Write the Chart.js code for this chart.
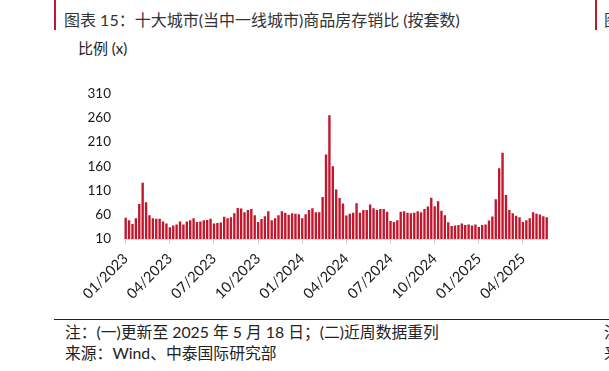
<!DOCTYPE html>
<html>
<head>
<meta charset="utf-8">
<script src="https://cdn.jsdelivr.net/npm/chart.js@4"></script>
<style>
  html, body { margin: 0; padding: 0; background: #fff; }
  body { width: 609px; height: 371px; position: relative; overflow: hidden;
         font-family: Lato, "Noto Sans CJK SC", sans-serif; }
  .abs { position: absolute; white-space: nowrap; }
  .redline { position: absolute; width: 1.5px; background: #c0172d; }
  #title { left: 64px; top: 7px; font-size: 16px; color: #333; }
  #unit { left: 78px; top: 37px; font-size: 15px; color: #222; }
  .note { left: 65px; font-size: 15.8px; color: #222; }
  #chartBox { position: absolute; left: 0; top: 60px; width: 609px; height: 255px; }
</style>
</head>
<body>
<div class="redline" style="left:54px;top:0;height:30px"></div>
<div class="redline" style="left:595px;top:0;height:30px"></div>
<div class="abs" id="title">图表 15：十大城市(当中一线城市)商品房存销比 (按套数)</div>
<div class="abs" style="left:604px;top:7px;font-size:16px;color:#333">图</div>
<div class="abs" id="unit">比例 (x)</div>

<div id="chartBox"><canvas id="stockSalesChart" width="609" height="255"></canvas></div>

<div class="abs" style="left:54px;top:319px;width:555px;height:1px;background:#222"></div>
<div class="abs note" style="top:320px">注：(一)更新至 2025 年 5 月 18 日；(二)近周数据重列</div>
<div class="abs note" style="top:341px">来源：Wind、中泰国际研究部</div>
<div class="abs note" style="left:604px;top:320px">注</div>
<div class="abs note" style="left:604px;top:341px">来</div>

<script>
// weekly readings, first week 2023-01-01, last week 2025-05-18
const firstWeek = '2023-01-01';
const weekCount = 125;

const tickLabels = ['01/2023', '04/2023', '07/2023', '10/2023', '01/2024',
                    '04/2024', '07/2024', '10/2024', '01/2025', '04/2025'];
const weeksPerTick = 13;

const yTicks = [10, 60, 110, 160, 210, 260, 310];

const stockSalesRatio = [
  54, 48.5, 41, 52.6, 82, 126, 86, 59, 52.6, 52, 52, 46, 42,
  34, 38, 40, 46, 40, 46, 48.5, 52.6, 45, 46, 48.5, 49, 52,
  42, 43, 44, 56, 52.6, 55, 63, 74, 73, 65, 70, 72, 59,
  45, 51, 57, 67, 48.5, 52.6, 59, 67, 64, 60, 63, 62, 61,
  52.6, 61, 70, 73.5, 65, 65, 96.5, 184, 265, 160, 112, 94.5, 83,
  58.6, 62, 64, 83.6, 64, 70, 70, 81, 73.5, 70, 72, 72, 66,
  47, 45, 48.5, 66, 67, 64, 63, 64, 67, 65, 72, 77, 95,
  77.6, 88, 68, 59, 44.5, 37, 37.7, 39, 42, 39, 40, 38, 40,
  35, 39, 40, 48, 56.6, 92, 156, 188, 100.5, 70, 63, 58, 54.6,
  45, 48.5, 53, 65, 62, 60.7, 57, 54.6
];

const weeks = [];
const start = new Date(firstWeek + 'T00:00:00Z');
for (let i = 0; i < weekCount; i++) {
  const d = new Date(start.getTime() + i * 7 * 86400000);
  weeks.push(d.toISOString().slice(0, 10));
}

const yFont = { family: 'Lato', size: 13.5 };
const xFont = { family: 'Lato', size: 14.5 };

new Chart(document.getElementById('stockSalesChart'), {
  type: 'bar',
  data: {
    labels: weeks,
    datasets: [{
      data: stockSalesRatio,
      backgroundColor: '#c0172d',
      barPercentage: 0.7,
      categoryPercentage: 1,
    }],
  },
  options: {
    responsive: false,
    animation: false,
    devicePixelRatio: 1,
    layout: { padding: { top: 33.5, right: 60.6, bottom: 0, left: 0 } },
    plugins: { legend: { display: false }, tooltip: { enabled: false } },
    scales: {
      x: {
        grid: {
          drawOnChartArea: false,
          offset: false,
          tickLength: 5,
          color: ctx => (ctx.index % weeksPerTick === 0 ? '#d0d0d0' : 'transparent'),
        },
        border: { display: true, color: '#d9d9d9', width: 1 },
        ticks: {
          autoSkip: false,
          maxRotation: 45,
          minRotation: 45,
          padding: 6,
          font: xFont,
          color: '#1a1a1a',
          callback: (v, i) => (i % weeksPerTick === 0 ? tickLabels[i / weeksPerTick] : ''),
        },
        afterFit: s => { s.height = 76; },
      },
      y: {
        min: yTicks[0],
        max: yTicks[yTicks.length - 1],
        grid: { display: false, drawTicks: false },
        border: { display: false },
        afterBuildTicks: s => { s.ticks = yTicks.map(v => ({ value: v })); },
        ticks: { padding: 13, font: yFont, color: '#1a1a1a' },
        afterFit: s => { s.width = 124; },
      },
    },
  },
});
</script>
</body>
</html>
